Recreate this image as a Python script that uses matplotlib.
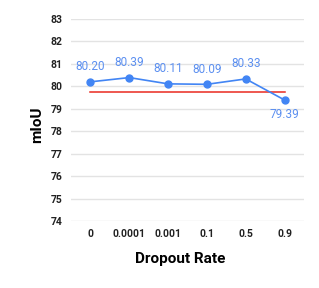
import matplotlib
matplotlib.use("Agg")
import matplotlib.pyplot as plt

plt.rcParams['font.family'] = ['Roboto', 'DejaVu Sans']

rates = ['0', '0.0001', '0.001', '0.1', '0.5', '0.9']
miou = [80.20, 80.39, 80.11, 80.09, 80.33, 79.39]
baseline = 79.76
yticks = [74, 75, 76, 77, 78, 79, 80, 81, 82, 83]

fig = plt.figure(figsize=(3.19, 2.88), dpi=100)
ax = fig.add_axes([71 / 319, 1 - 221 / 288, 233 / 319, 202 / 288])

x = list(range(len(rates)))
ax.plot(x, miou, color='#4285f4', lw=1.2, marker='o', ms=5, zorder=3)
ax.plot([x[0], x[-1]], [baseline, baseline], color='#ea2a1f', lw=1.1, zorder=2)

for xi, v in zip(x, miou):
    off = -15 if v < baseline else 15
    ax.text(xi, v + off / 22.5, f'{v:.2f}', ha='center', va='center',
            color='#5b8ff0', fontsize=8.5)

ax.set_xlim(-0.5, len(rates) - 0.5)
ax.set_ylim(74, 83)
ax.set_yticks(yticks)
ax.set_xticks(x)
ax.set_xticklabels(rates)
ax.grid(axis='y', color='#e3e3e3', lw=1)
ax.set_axisbelow(True)
for s in ax.spines.values():
    s.set_visible(False)
ax.tick_params(length=0, labelsize=7.5, labelcolor='#222222')
ax.tick_params(axis='y', pad=6)
ax.tick_params(axis='x', pad=6)
for lab in ax.get_xticklabels() + ax.get_yticklabels():
    lab.set_fontweight('bold')

ax.set_xlabel('Dropout Rate', fontsize=11, fontweight='bold')
ax.set_ylabel('mIoU', fontsize=11, fontweight='bold')
ax.xaxis.set_label_coords((180.5 - 71) / 233, (221 - 259) / 202)
ax.yaxis.set_label_coords((37 - 71) / 233, (221 - 124.5) / 202)
ax.xaxis.label.set_va('center')
ax.yaxis.label.set_va('center')

fig.savefig('out.png', dpi=100)
